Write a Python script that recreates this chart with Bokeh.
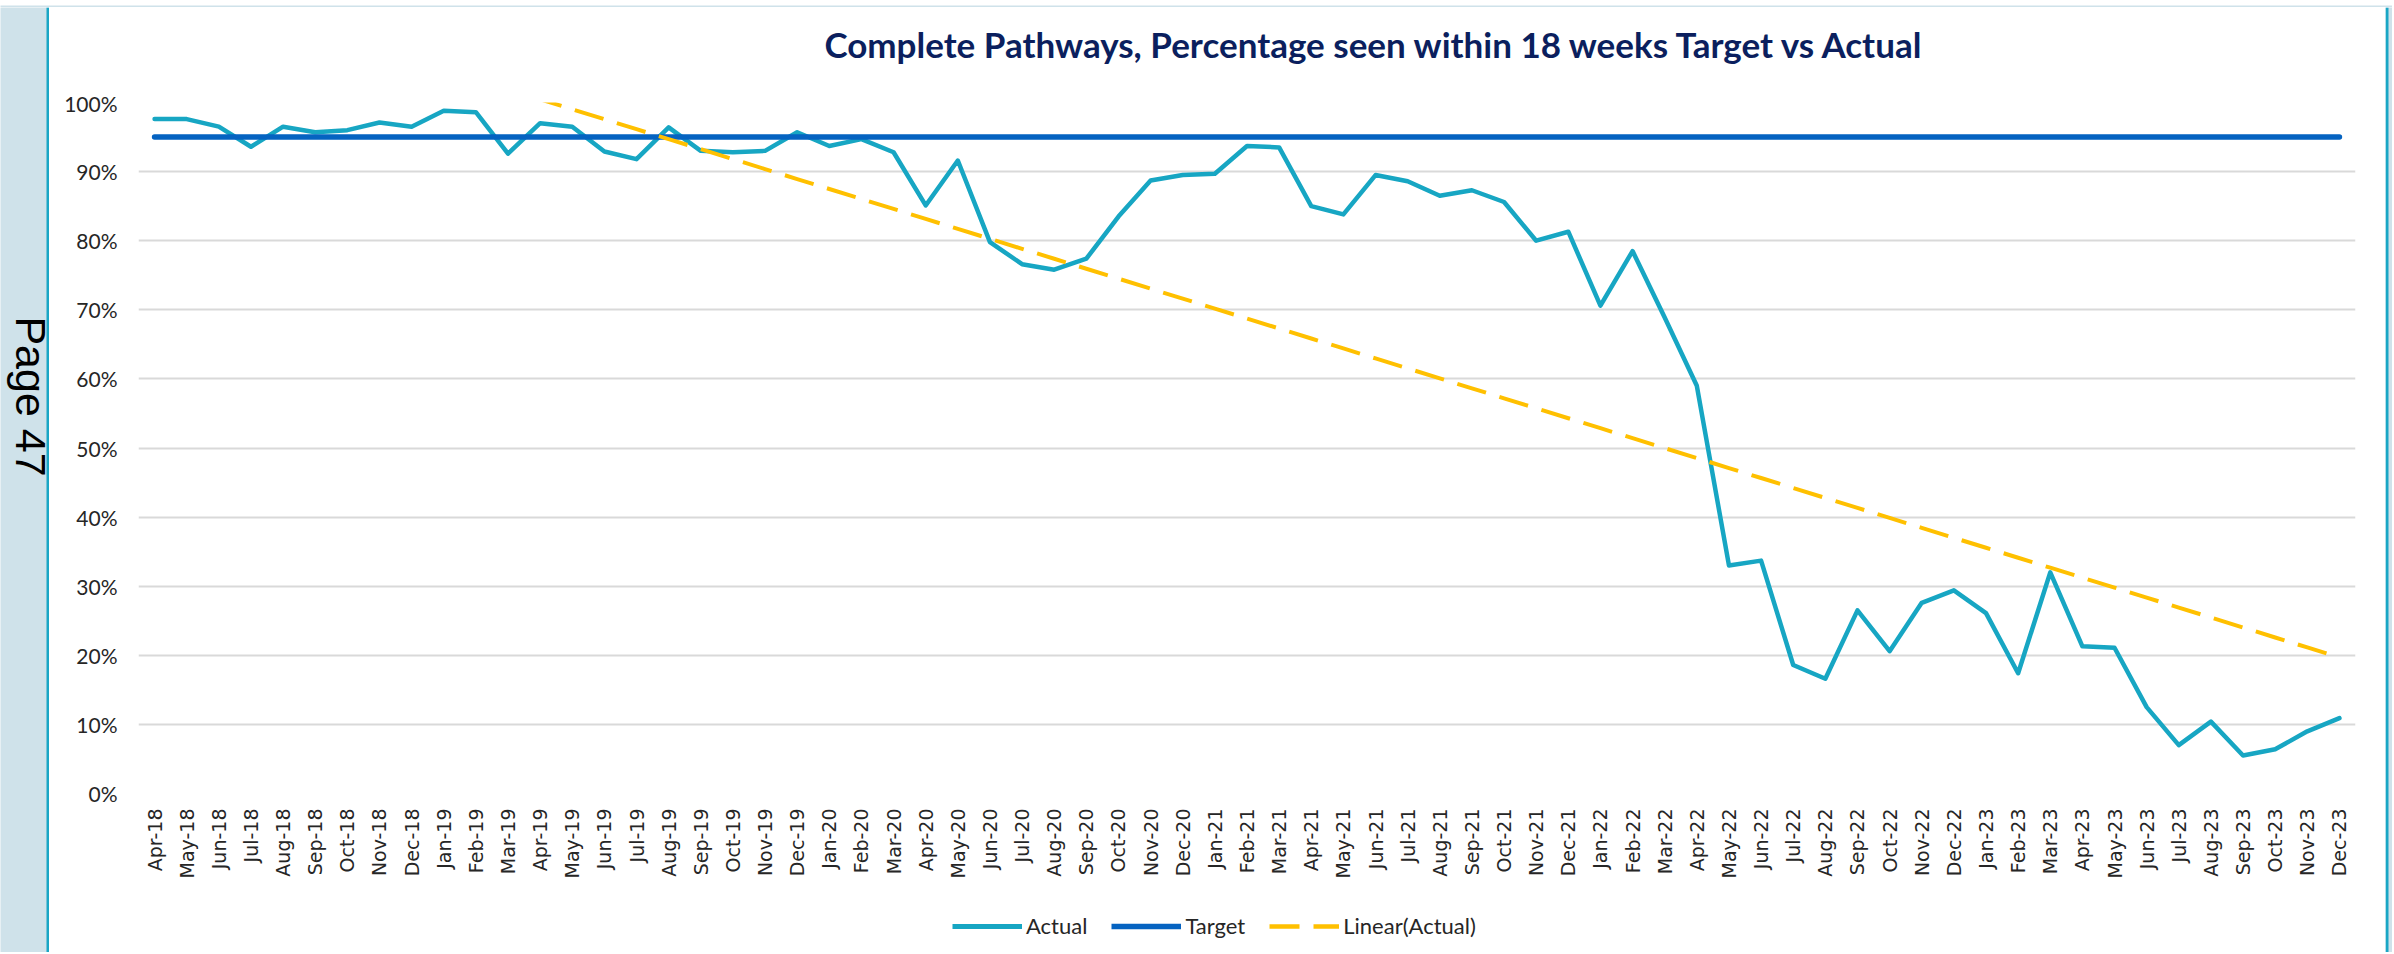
import numpy as np
from bokeh.plotting import figure
from bokeh.layouts import row, column
from bokeh.models import (FixedTicker, PrintfTickFormatter, Legend, LegendItem,
                          Label, BoxAnnotation, Range1d)
from bokeh.embed import file_html
from bokeh.resources import INLINE

# ---------------- data ----------------
months = ["Apr-18", "May-18", "Jun-18", "Jul-18", "Aug-18", "Sep-18", "Oct-18", "Nov-18", "Dec-18",
          "Jan-19", "Feb-19", "Mar-19", "Apr-19", "May-19", "Jun-19", "Jul-19", "Aug-19", "Sep-19",
          "Oct-19", "Nov-19", "Dec-19",
          "Jan-20", "Feb-20", "Mar-20", "Apr-20", "May-20", "Jun-20", "Jul-20", "Aug-20", "Sep-20",
          "Oct-20", "Nov-20", "Dec-20",
          "Jan-21", "Feb-21", "Mar-21", "Apr-21", "May-21", "Jun-21", "Jul-21", "Aug-21", "Sep-21",
          "Oct-21", "Nov-21", "Dec-21",
          "Jan-22", "Feb-22", "Mar-22", "Apr-22", "May-22", "Jun-22", "Jul-22", "Aug-22", "Sep-22",
          "Oct-22", "Nov-22", "Dec-22",
          "Jan-23", "Feb-23", "Mar-23", "Apr-23", "May-23", "Jun-23", "Jul-23", "Aug-23", "Sep-23",
          "Oct-23", "Nov-23", "Dec-23"]

actual = [97.6, 97.6, 96.5, 93.6, 96.5, 95.7, 96.0, 97.1, 96.5,
          98.8, 98.6, 92.6, 97.0, 96.5, 92.9, 91.8, 96.4, 93.0, 92.8, 93.0, 95.7,
          93.7, 94.7, 92.8, 85.1, 91.6, 79.8, 76.6, 75.8, 77.4, 83.5, 88.7, 89.5,
          89.7, 93.7, 93.5, 85.0, 83.8, 89.5, 88.6, 86.5, 87.3, 85.6, 80.0, 81.3,
          70.6, 78.5, 68.9, 59.0, 33.0, 33.7, 18.6, 16.6, 26.5, 20.6, 27.6, 29.4,
          26.1, 17.4, 32.0, 21.3, 21.1, 12.5, 7.0, 10.4, 5.5, 6.4, 9.0, 10.9]

target = [95] * len(months)

y_ticks = [0, 10, 20, 30, 40, 50, 60, 70, 80, 90, 100]

title_text = "Complete Pathways, Percentage seen within 18 weeks Target vs Actual"
series_names = ["Actual", "Target", "Linear(Actual)"]
page_text = "Page 47"

# ---------------- styles ----------------
C_ACT = "#17A6C3"
C_TGT = "#0563C1"
C_TRD = "#FFC000"
C_FRAME = "#1AA6C5"
C_PANEL = "#CFE2EA"
C_TEXT = "#262626"
C_TITLE = "#0B1F5E"


def blank(w, h, bg):
    f = figure(width=w, height=h, output_backend="svg", toolbar_location=None,
               x_range=Range1d(0, w), y_range=Range1d(0, h),
               x_axis_type=None, y_axis_type=None, min_border=0,
               background_fill_color=bg, border_fill_color=bg,
               outline_line_color=None)
    f.title = None
    f.xgrid.visible = False
    f.ygrid.visible = False
    return f


def band(f, l, r, b, t, color):
    f.add_layout(BoxAnnotation(left=l, right=r, bottom=b, top=t,
                               fill_color=color, fill_alpha=1, line_color=None))


TOP_H = 7                    # light strip (4) + frame line (3) above the chart
BODY_H = 945
LEFT_W, COL_W, RIGHT_W = 49, 2336, 7
FULL_W = LEFT_W + COL_W + RIGHT_W
TITLE_H, MAIN_H, LEG_H = 83, 804, 58
BW = 3                       # frame line width

# ---------------- top strip (frame top edge) ----------------
top = blank(FULL_W, TOP_H, C_PANEL)
band(top, LEFT_W - BW, LEFT_W + COL_W + BW, 0, BW, C_FRAME)

# ---------------- left page strip ----------------
left = blank(LEFT_W, BODY_H, C_PANEL)
band(left, LEFT_W - BW, LEFT_W, 0, BODY_H, C_FRAME)
left.add_layout(Label(x=30, y=BODY_H - 389, text=page_text, angle=-np.pi / 2,
                      text_align="center", text_baseline="middle",
                      text_font="Liberation Sans", text_font_size="43px",
                      text_color="black"))

# ---------------- right strip ----------------
right = blank(RIGHT_W, BODY_H, C_PANEL)
band(right, 0, BW, 0, BODY_H, C_FRAME)

# ---------------- title ----------------
tfig = blank(COL_W, TITLE_H, "white")
tfig.add_layout(Label(x=1303, y=47, text=title_text,
                      text_align="center", text_baseline="alphabetic",
                      text_font="Lato", text_font_style="bold", text_font_size="35px",
                      text_color=C_TITLE))

# ---------------- main chart ----------------
n = len(months)
xs = list(range(n))
FL, FR, FT, FB = 89, 2306, 12, 703

p = figure(width=COL_W, height=MAIN_H, output_backend="svg", toolbar_location=None,
           x_range=Range1d(-0.5, n - 0.5), y_range=Range1d(0, 100),
           min_border_left=FL, min_border_right=COL_W - FR,
           min_border_top=FT, min_border_bottom=MAIN_H - FB,
           background_fill_color="white", border_fill_color="white",
           outline_line_color=None)
p.title = None

coef = np.polyfit(xs, actual, 1)
trend = list(np.polyval(coef, xs))

p.line(xs, actual, line_color=C_ACT, line_width=4.5, line_join="round", line_cap="round")
p.line(xs, target, line_color=C_TGT, line_width=5.5, line_cap="round")
p.line(xs, trend, line_color=C_TRD, line_width=4, line_dash="30 14")

p.xaxis.ticker = FixedTicker(ticks=xs)
p.xaxis.major_label_overrides = {i: m for i, m in enumerate(months)}
p.xaxis.major_label_orientation = np.pi / 2
p.xaxis.major_label_text_font = "DejaVu Sans"
p.xaxis.major_label_text_font_size = "19px"
p.xaxis.major_label_text_color = C_TEXT
p.xaxis.major_label_standoff = 15
p.xaxis.axis_line_color = None
p.xaxis.major_tick_line_color = None
p.xaxis.minor_tick_line_color = None
p.xaxis.major_tick_out = 0
p.xaxis.major_tick_in = 0

p.yaxis.ticker = FixedTicker(ticks=y_ticks)
p.yaxis.formatter = PrintfTickFormatter(format="%d%%")
p.yaxis.major_label_text_font = "Lato"
p.yaxis.major_label_text_font_size = "21px"
p.yaxis.major_label_text_color = C_TEXT
p.yaxis.major_label_standoff = 21
p.yaxis.axis_line_color = None
p.yaxis.major_tick_line_color = None
p.yaxis.minor_tick_line_color = None
p.yaxis.major_tick_out = 0
p.yaxis.major_tick_in = 0

p.xgrid.grid_line_color = None
p.ygrid.grid_line_color = "#D9D9D9"
p.ygrid.grid_line_width = 2

# ---------------- legend strip (proxy renderers outside the visible range) ----------------
lfig = blank(COL_W, LEG_H, "white")
la = lfig.line([-50], [-50], line_color=C_ACT, line_width=5)
lt = lfig.line([-50], [-50], line_color=C_TGT, line_width=5.5)
ld = lfig.line([-50], [-50], line_color=C_TRD, line_width=4.5, line_dash="30 14")
legend = Legend(items=[LegendItem(label=series_names[0], renderers=[la]),
                       LegendItem(label=series_names[1], renderers=[lt]),
                       LegendItem(label=series_names[2], renderers=[ld])],
                orientation="horizontal", location=(814, 13),
                label_text_font="Lato", label_text_font_size="22px",
                label_text_color=C_TEXT,
                glyph_width=70, glyph_height=20, label_standoff=4, spacing=24,
                padding=4, margin=0, border_line_color=None,
                background_fill_alpha=0)
lfig.add_layout(legend)

layout = column(top, row(left, column(tfig, p, lfig), right))

open("out.html", "w").write(file_html(layout, INLINE))
